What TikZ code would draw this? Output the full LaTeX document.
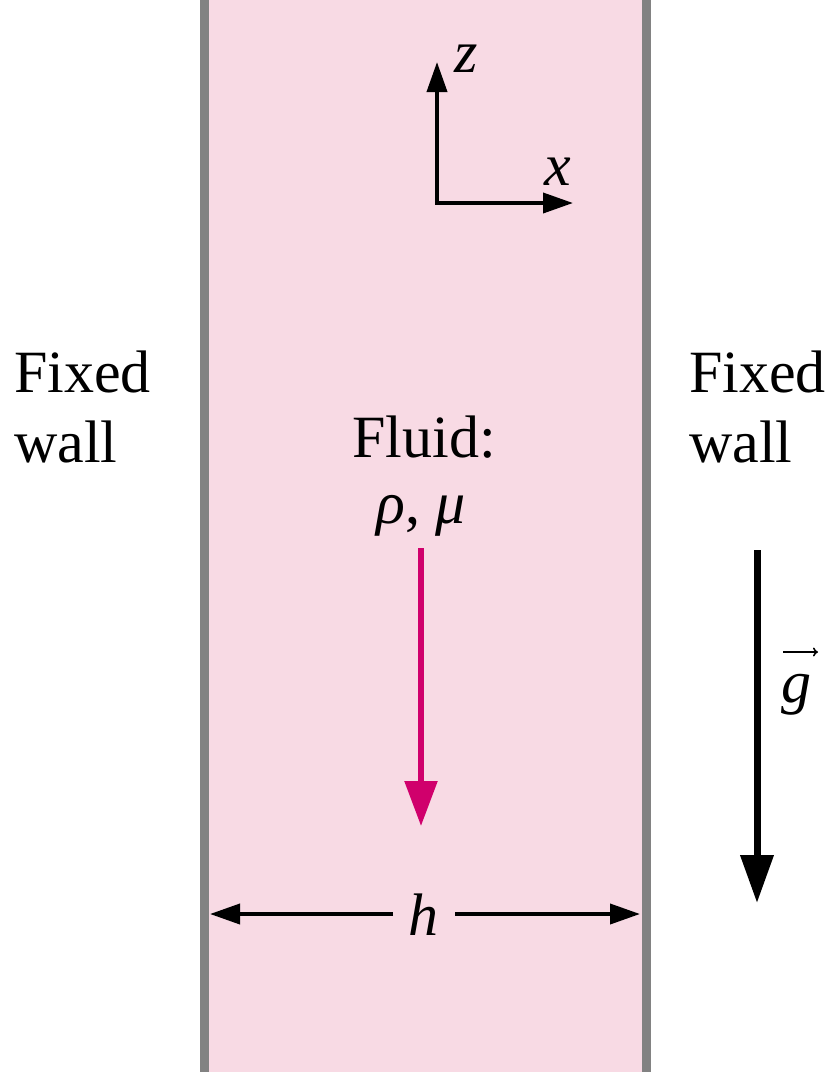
\documentclass[tikz,border=0pt]{standalone}
\usepackage{fontspec}
\setmainfont{Liberation Serif}
\usetikzlibrary{arrows.meta}
\definecolor{fluidpink}{RGB}{248,218,228}
\definecolor{wallgray}{RGB}{130,130,130}
\definecolor{flowmag}{RGB}{208,0,108}
\tikzset{
  lbl/.style={font=\fontsize{60}{70}\selectfont, inner sep=0pt},
  mlbl/.style={font=\fontsize{60}{70}\selectfont\itshape, inner sep=0pt},
  thinarrow/.style={line width=3.8pt, -{Triangle[length=30pt,width=20pt]}},
}
\begin{document}
\begin{tikzpicture}[x=1pt,y=-1pt]
\useasboundingbox (0,0) rectangle (831,1072);
% fluid
\fill[fluidpink] (204,0) rectangle (646,1072);
% walls
\draw[wallgray, line width=9pt] (204,-5) -- (204,1077);
\draw[wallgray, line width=9pt] (646,-5) -- (646,1077);
% axes
\coordinate (O) at (437,203);
\coordinate (Z) at (437,62);
\coordinate (X) at (573,203);
\draw[thinarrow] ([yshift=-1.9pt]O) -- (Z);
\draw[thinarrow] ([xshift=-1.9pt]O) -- (X);
\node[mlbl, anchor=base] (zl) at (466,72) {z};
\node[mlbl, anchor=base] (xl) at (558,185) {x};
% side labels
\node[lbl, anchor=base west, align=left] (lw) at (14,462) {Fixed\\wall};
\node[lbl, anchor=base west, align=left] (rw) at (689,462) {Fixed\\wall};
% fluid labels
\node[lbl, anchor=base] (fl) at (424,457) {Fluid:};
\node[lbl, anchor=base] (pm) at (421,523) {\itshape ρ\/\upshape, \itshape μ};
% flow arrow
\coordinate (fa) at (421,826);
\draw[flowmag, line width=5.5pt, -{Triangle[length=45pt,width=32pt]}] (pm.south |- 0,548) -- (fa);
% gravity
\coordinate (gt) at (757,550);
\coordinate (gb) at (757,903);
\draw[line width=7pt, -{Triangle[length=48pt,width=32pt]}] (gt) -- (gb);
\node[mlbl, anchor=base] (gl) at (796,702) {g};
\draw[line width=1.6pt, -{To[length=5pt,width=9pt]}] ([xshift=-13pt,yshift=50pt]gl.base) -- ([xshift=22pt,yshift=50pt]gl.base);
% width h
\node[mlbl, anchor=base] (hl) at (423,935) {h};
\coordinate (hlw) at (210,914);
\coordinate (hrw) at (640,914);
\draw[thinarrow] (393,914) -- (hlw);
\draw[thinarrow] (455,914) -- (hrw);
\end{tikzpicture}
\end{document}
